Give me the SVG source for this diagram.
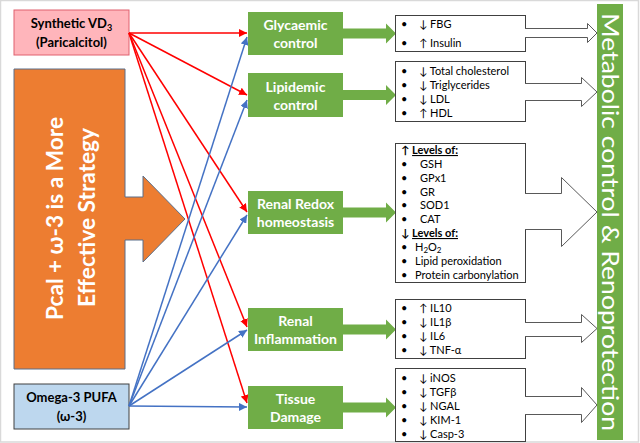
<svg xmlns="http://www.w3.org/2000/svg" width="640" height="443" viewBox="0 0 640 443">
<style>
text{font-family:Lato,"Liberation Sans","DejaVu Sans",sans-serif}
.src{font-size:13px;font-weight:bold;fill:#000;text-anchor:middle}
.gb{fill:#70AD47}
.gt{font-size:14px;font-weight:bold;fill:#fff;text-anchor:middle}
.tb{fill:#fff;stroke:#404040;stroke-width:1}
.t{font-size:11px;fill:#000}
.oa{fill:#fff;stroke:#595959;stroke-width:1}
.red{stroke:#FF0000;stroke-width:1.5;fill:none;marker-end:url(#mr)}
.blue{stroke:#4472C4;stroke-width:1.5;fill:none;marker-end:url(#mb)}
</style>
<defs>
<marker id="mr" markerUnits="userSpaceOnUse" markerWidth="9" markerHeight="8" refX="8" refY="4" orient="auto"><path d="M0,0 L8,4 L0,8 Z" fill="#FF0000"/></marker>
<marker id="mb" markerUnits="userSpaceOnUse" markerWidth="9" markerHeight="8" refX="8" refY="4" orient="auto"><path d="M0,0 L8,4 L0,8 Z" fill="#4472C4"/></marker>
</defs>
<rect x="0.5" y="0.5" width="638" height="441.5" fill="#fff" stroke="#D9D9D9" stroke-width="1.5"/>

<g id="vd3">
<rect x="14" y="10" width="115" height="45" fill="#FFB5BB" stroke="#E0606E" stroke-width="1"/>
<text class="src" x="71.5" y="28">Synthetic VD<tspan font-size="9" dy="3">3</tspan></text>
<text class="src" x="71.5" y="47">(Paricalcitol)</text>
</g>

<g id="strategy">
<polygon points="14,69 125,69 125,197 143,197 143,176 185,219 143,262 143,240 125,240 125,369 14,369" fill="#ED7D31" stroke="#5B6F8A" stroke-width="1"/>
<text transform="translate(63,218.5) rotate(-90)" font-size="22" font-weight="bold" fill="#fff" text-anchor="middle" textLength="203" lengthAdjust="spacingAndGlyphs">Pcal + ω-3 is a More</text>
<text transform="translate(95,217.5) rotate(-90)" font-size="22" font-weight="bold" fill="#fff" text-anchor="middle" textLength="179" lengthAdjust="spacingAndGlyphs">Effective Strategy</text>
</g>

<g id="omega3">
<rect x="14" y="384" width="115" height="45" fill="#BDD7EE" stroke="#404040" stroke-width="1"/>
<text class="src" x="71.5" y="402">Omega-3 PUFA</text>
<text class="src" x="71.5" y="421">(ω-3)</text>
</g>

<g id="connectors">
<line class="red" x1="129" y1="33" x2="247" y2="33"/>
<line class="red" x1="129" y1="33" x2="247" y2="95"/>
<line class="red" x1="129" y1="33" x2="247" y2="212"/>
<line class="red" x1="129" y1="33" x2="247" y2="327"/>
<line class="red" x1="129" y1="33" x2="247" y2="403"/>
<line class="blue" x1="129" y1="406" x2="247" y2="37"/>
<line class="blue" x1="129" y1="406" x2="247" y2="100"/>
<line class="blue" x1="129" y1="406" x2="247" y2="215"/>
<line class="blue" x1="129" y1="406" x2="247" y2="330"/>
<line class="blue" x1="129" y1="406" x2="247" y2="407"/>
</g>

<g id="glycaemic">
<rect class="gb" x="248" y="12" width="95" height="43"/>
<polygon class="gb" points="342,28.5 386,28.5 386,23.5 396,33.5 386,43.5 386,38.5 342,38.5"/>
<text class="gt" x="295.5" y="29.5">Glycaemic</text>
<text class="gt" x="295.5" y="47.5">control</text>
</g>
<g id="lipidemic">
<rect class="gb" x="248" y="73" width="95" height="44"/>
<polygon class="gb" points="342,90 386,90 386,85 396,95 386,105 386,100 342,100"/>
<text class="gt" x="295.5" y="92">Lipidemic</text>
<text class="gt" x="295.5" y="110">control</text>
</g>
<g id="redox">
<rect class="gb" x="248" y="191" width="95" height="43"/>
<polygon class="gb" points="342,207.5 386,207.5 386,202.5 396,212.5 386,222.5 386,217.5 342,217.5"/>
<text class="gt" x="295.5" y="209">Renal Redox</text>
<text class="gt" x="295.5" y="227">homeostasis</text>
</g>
<g id="inflammation">
<rect class="gb" x="248" y="308" width="95" height="43"/>
<polygon class="gb" points="342,324.5 386,324.5 386,319.5 396,329.5 386,339.5 386,334.5 342,334.5"/>
<text class="gt" x="295.5" y="326">Renal</text>
<text class="gt" x="295.5" y="344">Inflammation</text>
</g>
<g id="tissue">
<rect class="gb" x="248" y="386" width="95" height="43"/>
<polygon class="gb" points="342,402.5 386,402.5 386,397.5 396,407.5 386,417.5 386,412.5 342,412.5"/>
<text class="gt" x="295.5" y="404">Tissue</text>
<text class="gt" x="295.5" y="422">Damage</text>
</g>

<g id="box-glycaemic">
<rect class="tb" x="395.5" y="15.5" width="130" height="36"/>
<text class="t" x="401" y="28">•</text><text class="t" x="419" y="28">↓ FBG</text>
<text class="t" x="401" y="47">•</text><text class="t" x="419" y="47">↑ Insulin</text>
</g>
<g id="box-lipidemic">
<rect class="tb" x="395.5" y="61.5" width="130" height="60"/>
<text class="t" x="401" y="75">•</text><text class="t" x="419" y="75">↓ Total cholesterol</text>
<text class="t" x="401" y="89">•</text><text class="t" x="419" y="89">↓ Triglycerides</text>
<text class="t" x="401" y="103">•</text><text class="t" x="419" y="103">↓ LDL</text>
<text class="t" x="401" y="117">•</text><text class="t" x="419" y="117">↑ HDL</text>
</g>
<g id="box-redox">
<rect class="tb" x="395.5" y="143.5" width="130" height="139"/>
<text class="t" x="401" y="154"><tspan font-weight="bold">↑</tspan> <tspan font-weight="bold" text-decoration="underline">Levels of:</tspan></text>
<text class="t" x="401" y="168">•</text><text class="t" x="420" y="168">GSH</text>
<text class="t" x="401" y="182">•</text><text class="t" x="420" y="182">GPx1</text>
<text class="t" x="401" y="196">•</text><text class="t" x="420" y="196">GR</text>
<text class="t" x="401" y="209">•</text><text class="t" x="420" y="209">SOD1</text>
<text class="t" x="401" y="223">•</text><text class="t" x="420" y="223">CAT</text>
<text class="t" x="401" y="237"><tspan font-weight="bold">↓</tspan> <tspan font-weight="bold" text-decoration="underline">Levels of:</tspan></text>
<text class="t" x="401" y="251">•</text><text class="t" x="415" y="251">H<tspan font-size="8" dy="2">2</tspan><tspan dy="-2">O</tspan><tspan font-size="8" dy="2">2</tspan></text>
<text class="t" x="401" y="265">•</text><text class="t" x="415" y="265">Lipid peroxidation</text>
<text class="t" x="401" y="279">•</text><text class="t" x="415" y="279">Protein carbonylation</text>
</g>
<g id="box-inflammation">
<rect class="tb" x="395.5" y="299.5" width="130" height="59"/>
<text class="t" x="401" y="312">•</text><text class="t" x="419" y="312">↑ IL10</text>
<text class="t" x="401" y="326">•</text><text class="t" x="419" y="326">↓ IL1β</text>
<text class="t" x="401" y="340">•</text><text class="t" x="419" y="340">↓ IL6</text>
<text class="t" x="401" y="354">•</text><text class="t" x="419" y="354">↓ TNF-α</text>
</g>
<g id="box-tissue">
<rect class="tb" x="395.5" y="368.5" width="130" height="73"/>
<text class="t" x="401" y="382">•</text><text class="t" x="419" y="382">↓ iNOS</text>
<text class="t" x="401" y="396">•</text><text class="t" x="419" y="396">↓ TGFβ</text>
<text class="t" x="401" y="410">•</text><text class="t" x="419" y="410">↓ NGAL</text>
<text class="t" x="401" y="424">•</text><text class="t" x="419" y="424">↓ KIM-1</text>
<text class="t" x="401" y="438">•</text><text class="t" x="419" y="438">↓ Casp-3</text>
</g>

<g id="outcome-arrows">
<path class="oa" d="M525,28.5 H587.5 V23.5 L597,33 L587.5,42.5 V37.5 H525"/>
<path class="oa" d="M525,83.5 H581.5 V77.5 L597,92 L581.5,106.5 V100.5 H525"/>
<path class="oa" d="M525,193.5 H561.5 V177.5 L597,212 L561.5,246.5 V229.5 H525"/>
<path class="oa" d="M525,322.5 H581.5 V314.5 L597,328.5 L581.5,342.5 V336.5 H525"/>
<path class="oa" d="M525,396.5 H581.5 V387.5 L597,405 L581.5,422.5 V414.5 H525"/>
</g>

<g id="outcome">
<rect x="597" y="4" width="26" height="436" fill="#70AD47"/>
<text transform="translate(602,222) rotate(90)" font-size="24" fill="#fff" text-anchor="middle" textLength="418" lengthAdjust="spacingAndGlyphs">Metabolic control &amp; Renoprotection</text>
</g>
</svg>
